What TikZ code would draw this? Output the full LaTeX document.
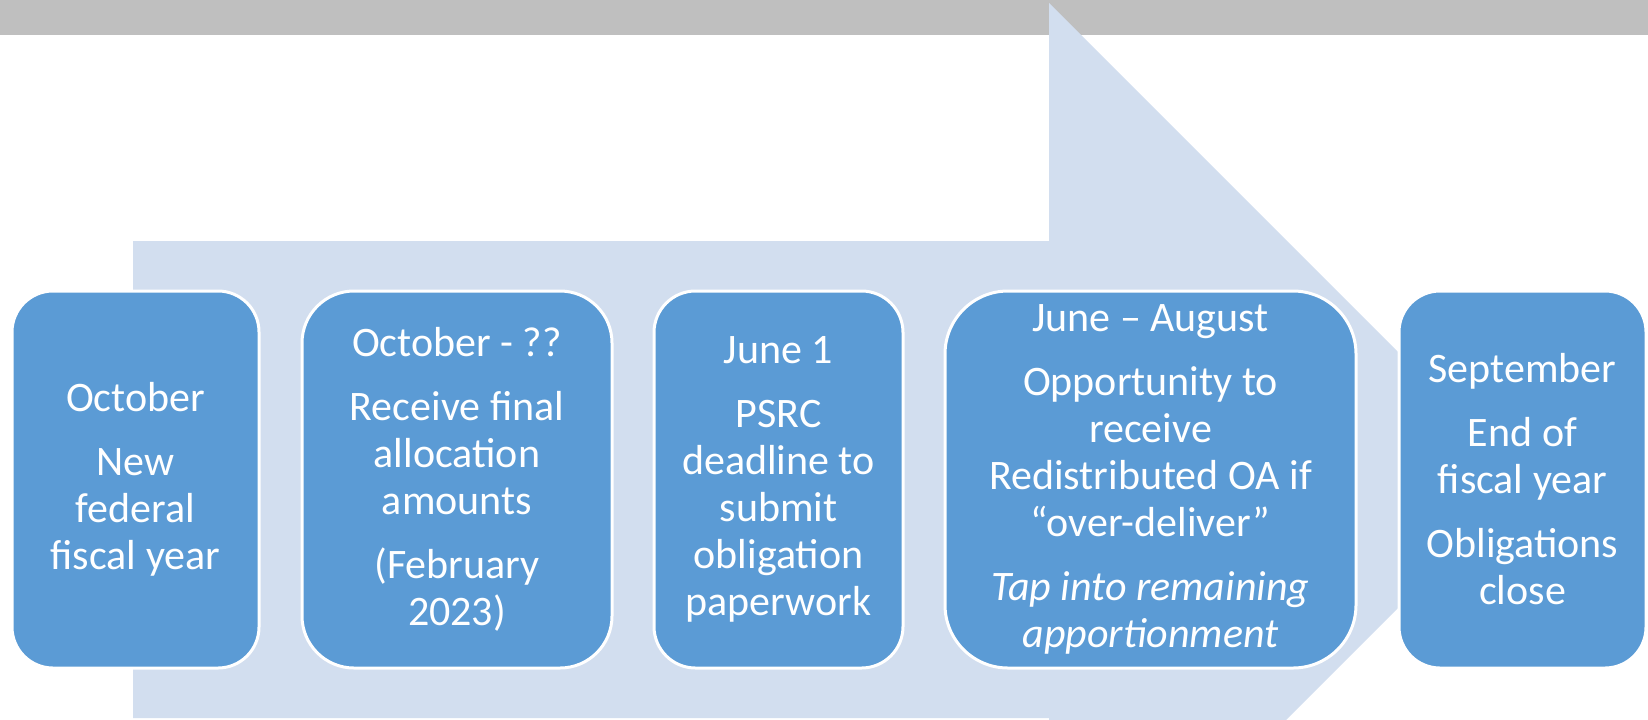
\documentclass[tikz,border=0pt]{standalone}
\usepackage{fontspec}
\setmainfont{Carlito}
\definecolor{barGray}{HTML}{BFBFBF}
\definecolor{arrowBlue}{HTML}{D2DEEF}
\definecolor{boxBlue}{HTML}{5B9BD5}
\tikzset{
  stagebox/.style={draw=white, line width=1.5pt, fill=boxBlue, text=white,
    align=center, inner sep=0pt, outer sep=0pt, minimum height=188.5pt,
    font=\fontsize{21pt}{23.5pt}\selectfont},
}
\begin{document}
\begin{tikzpicture}[x=0.5pt,y=-0.5pt]
\useasboundingbox (0,0) rectangle (1648,719);
\clip (0,0) rectangle (1648,719);
\fill[barGray] (0,0) rectangle (1648,35);
\fill[arrowBlue] (133,241) -- (1049,241) -- (1049,3) -- (1526,480) -- (1049,957) -- (1049,718) -- (133,718) -- cycle;
\node[stagebox, minimum width=123.5pt, rounded corners=20.5pt] (b1) at (135.5,479.5)
  {October\\[8.5pt]New\\federal\\fiscal year};
\node[stagebox, minimum width=155pt, rounded corners=26pt] (b2) at (457,479.5)
  {October - ??\\[8.5pt]Receive final\\allocation\\amounts\\[8.5pt](February\\2023)};
\node[stagebox, minimum width=124.5pt, rounded corners=20.75pt] (b3) at (778.5,479.5)
  {June 1\\[8.5pt]PSRC\\deadline to\\submit\\obligation\\paperwork};
\node[stagebox, minimum width=205.5pt, rounded corners=31.5pt] (b4) at (1150.5,479.5)
  {June – August\\[8.5pt]Opportunity to\\receive\\Redistributed OA if\\“over-deliver”\\[8.5pt]\textit{Tap into remaining}\\\textit{apportionment}};
\node[stagebox, minimum width=123.5pt, rounded corners=20.5pt] (b5) at (1522.5,479.5)
  {September\\[8.5pt]End of\\fiscal year\\[8.5pt]Obligations\\close};
\end{tikzpicture}
\end{document}
